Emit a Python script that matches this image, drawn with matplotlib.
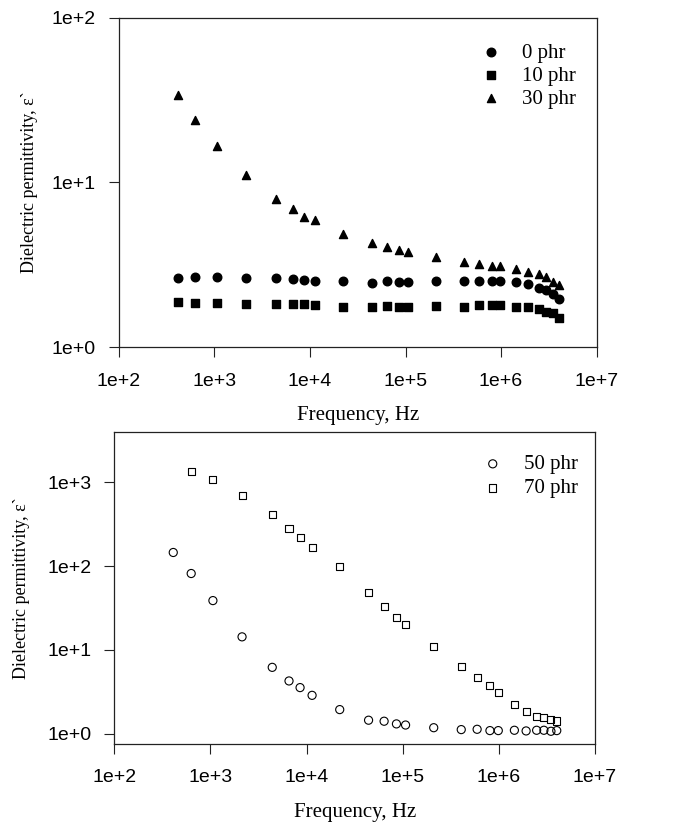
import matplotlib
matplotlib.use("Agg")
import matplotlib.pyplot as plt
from matplotlib.ticker import FixedLocator, FixedFormatter, NullLocator

# 测试频率 (Hz)
freq = [410, 630, 1060, 2130, 4390, 6560, 8550, 11400, 22100, 44100,
        64000, 86000, 107000, 210000, 406000, 594000, 807000, 986000,
        1450000, 1920000, 2470000, 2940000, 3480000, 4000000]

# 介电常数 ε' —— 上图
eps_0 = [2.64, 2.67, 2.66, 2.61, 2.64, 2.58, 2.55, 2.53, 2.50, 2.46, 2.53, 2.49,
         2.49, 2.53, 2.53, 2.53, 2.52, 2.52, 2.49, 2.41, 2.29, 2.21, 2.09, 1.95]
eps_10 = [1.87, 1.86, 1.84, 1.82, 1.82, 1.82, 1.82, 1.79, 1.76, 1.74, 1.77, 1.75,
          1.75, 1.77, 1.76, 1.79, 1.79, 1.79, 1.76, 1.75, 1.69, 1.63, 1.60, 1.51]
eps_30 = [33.8, 23.9, 16.5, 11.0, 7.94, 6.85, 6.17, 5.88, 4.86, 4.29, 4.02, 3.87,
          3.79, 3.50, 3.28, 3.17, 3.12, 3.12, 2.97, 2.87, 2.76, 2.67, 2.49, 2.38]

# 下图 (70 phr 从第二个频率点开始)
eps_50 = [145, 81.4, 38.7, 14.3, 6.19, 4.26, 3.55, 2.87, 1.94, 1.45, 1.41, 1.31,
          1.27, 1.18, 1.12, 1.13, 1.09, 1.09, 1.10, 1.08, 1.10, 1.10, 1.07, 1.09]
eps_70 = [1330, 1086, 693, 408, 278, 217, 168, 98.6, 48.7, 33.1, 24.3, 20.0,
          10.9, 6.27, 4.71, 3.75, 3.07, 2.24, 1.85, 1.61, 1.57, 1.47, 1.42]

x_ticks = [1e2, 1e3, 1e4, 1e5, 1e6, 1e7]
x_labels = ["1e+2", "1e+3", "1e+4", "1e+5", "1e+6", "1e+7"]
y_ticks_top = [1e0, 1e1, 1e2]
y_labels_top = ["1e+0", "1e+1", "1e+2"]
y_ticks_bot = [1e0, 1e1, 1e2, 1e3]
y_labels_bot = ["1e+0", "1e+1", "1e+2", "1e+3"]

serif = ["Liberation Serif", "DejaVu Serif"]
sans = ["Liberation Sans", "DejaVu Sans"]

fig = plt.figure(figsize=(6.93, 8.26), dpi=100)
ax1 = fig.add_axes([0.1717, 0.5799, 0.6891, 0.3989])
ax2 = fig.add_axes([0.1650, 0.0996, 0.6936, 0.3778])


def style_axis(ax, yticks, ylabels, ylim):
    ax.set_xscale("log")
    ax.set_yscale("log")
    ax.set_xlim(1e2, 1e7)
    ax.set_ylim(*ylim)
    ax.xaxis.set_major_locator(FixedLocator(x_ticks))
    ax.xaxis.set_major_formatter(FixedFormatter(x_labels))
    ax.yaxis.set_major_locator(FixedLocator(yticks))
    ax.yaxis.set_major_formatter(FixedFormatter(ylabels))
    ax.xaxis.set_minor_locator(NullLocator())
    ax.yaxis.set_minor_locator(NullLocator())
    ax.tick_params(direction="out", length=7.5, width=0.8, pad=9,
                   labelsize=14, color="#222222")
    ax.tick_params(axis="x", pad=11)
    for lab in ax.get_xticklabels() + ax.get_yticklabels():
        lab.set_family(sans)
    for sp in ax.spines.values():
        sp.set_linewidth(0.9)
        sp.set_color("#222222")
    ax.set_xlabel("Frequency, Hz", family=serif, fontsize=15, labelpad=12)
    ax.set_ylabel("Dielectric permittivity, ε`", family=serif, fontsize=13)


# 上图：0 / 10 / 30 phr
style_axis(ax1, y_ticks_top, y_labels_top, (1, 100))
ax1.scatter(freq, eps_0, marker="o", s=38, color="black", label="0 phr", zorder=3)
ax1.scatter(freq, eps_10, marker="s", s=28, color="black", label="10 phr", zorder=3)
ax1.scatter(freq, eps_30, marker="^", s=34, color="black", label="30 phr", zorder=3)
ax1.yaxis.set_label_coords(-0.17, 0.5)
ax1.legend(loc="upper left", bbox_to_anchor=(0.6931, 0.948), bbox_transform=fig.transFigure,
           frameon=False, prop={"family": serif, "size": 15}, handlelength=1.0,
           handletextpad=0.99, labelspacing=0.17, borderpad=0, borderaxespad=0,
           scatterpoints=1)

# 下图：50 / 70 phr
style_axis(ax2, y_ticks_bot, y_labels_bot, (0.76, 4000))
ax2.scatter(freq, eps_50, marker="o", s=34, facecolors="none", edgecolors="black",
            linewidths=0.8, label="50 phr", zorder=3)
ax2.scatter(freq[1:], eps_70, marker="s", s=26, facecolors="none", edgecolors="black",
            linewidths=0.8, label="70 phr", zorder=3)
ax2.yaxis.set_label_coords(-0.175, 0.5)
ax2.legend(loc="upper left", bbox_to_anchor=(0.696, 0.4495), bbox_transform=fig.transFigure,
           frameon=False, prop={"family": serif, "size": 15}, handlelength=1.0,
           handletextpad=1.02, labelspacing=0.22, borderpad=0, borderaxespad=0,
           scatterpoints=1)

fig.savefig("out.png", dpi=100)
